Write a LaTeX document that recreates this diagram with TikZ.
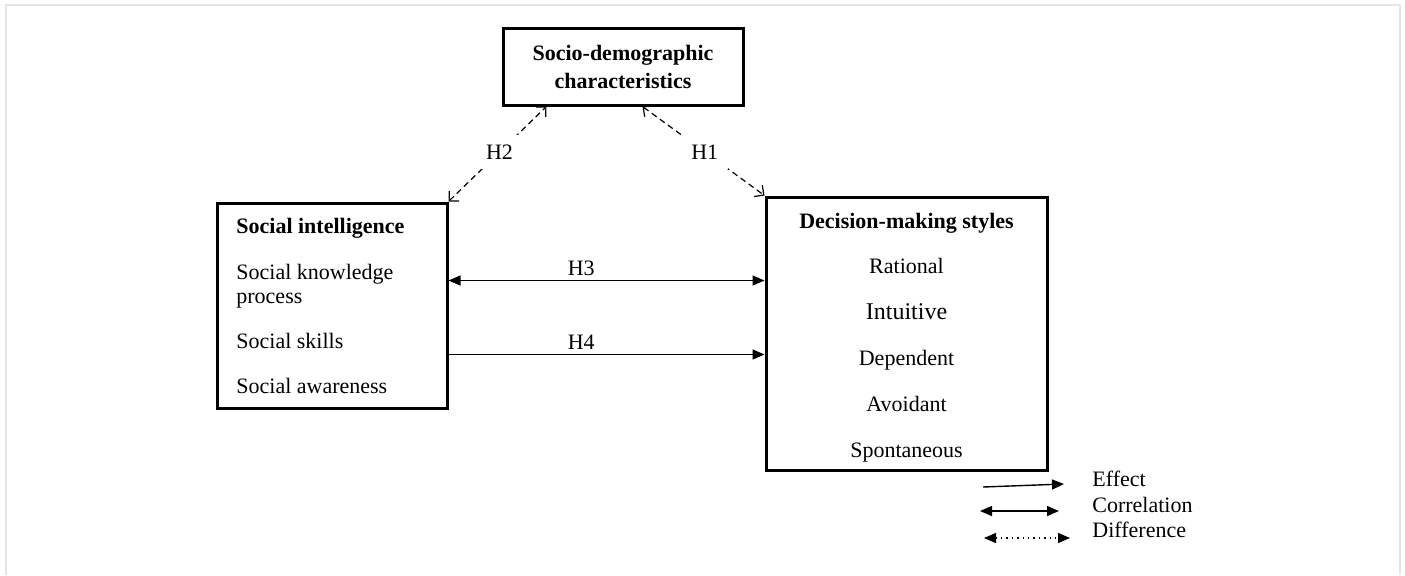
\documentclass[tikz,border=0pt]{standalone}
\usepackage{fontspec}
\setmainfont{Liberation Serif}
\usetikzlibrary{arrows.meta,positioning}

\tikzset{
  box/.style={draw, line width=1.5pt, inner sep=0pt},
  txt/.style={font=\fontsize{11}{14}\selectfont, inner sep=0pt},
  head/.style={font=\fontsize{11}{14}\selectfont\bfseries, inner sep=0pt},
  hyp/.style={font=\fontsize{11}{14}\selectfont, inner sep=2pt},
  gaplbl/.style={font=\fontsize{11}{14}\selectfont, fill=white, inner sep=5pt},
  dasharrow/.style={line width=0.6pt, dash pattern=on 3pt off 2pt,
    {Straight Barb[length=3.5pt,width=7pt]}-{Straight Barb[length=3.5pt,width=7pt]}},
  effect/.style={line width=0.7pt, -{Triangle[length=6pt,width=5pt]}},
  corr/.style={line width=0.7pt, {Triangle[length=6pt,width=5pt]}-{Triangle[length=6pt,width=5pt]}},
  diff/.style={line width=0.7pt, dotted, {Triangle[length=6pt,width=5pt]}-{Triangle[length=6pt,width=5pt]}}
}

\begin{document}
\begin{tikzpicture}[x=0.5pt,y=-0.5pt]
\useasboundingbox (0,0) rectangle (1405,575);
\draw[black!10, line width=1pt] (6,575) -- (6,5) -- (1400,5) -- (1400,575);

% the three boxes
\node[box, head, align=center, minimum width=120pt, minimum height=38.5pt] (sd) at (623,66.5) {Socio-demographic\\characteristics};
\node[box, minimum width=115pt, minimum height=102.5pt] (si) at (332,305.5) {};
\node[box, minimum width=140.5pt, minimum height=136.5pt] (dm) at (906.5,333.5) {};

% social intelligence
\node[head, anchor=base west] (si0) at (236,233) {Social intelligence};
\node[txt, anchor=base west] (si1) at (236,279) {Social knowledge};
\node[txt, anchor=base west] (si1b) at (236,303) {process};
\node[txt, anchor=base west] (si2) at (236,348) {Social skills};
\node[txt, anchor=base west] (si3) at (236,393) {Social awareness};

% decision-making styles
\node[head, anchor=base] (dm0) at (906.5,228) {Decision-making styles};
\foreach \s [count=\n] in {Rational,{\fontsize{12}{14}\selectfont Intuitive},Dependent,Avoidant,Spontaneous}
  \node[txt, anchor=base] (dm\n) at (906.5,{227+46*\n}) {\s};

% hypotheses
\draw[dasharrow] (si.north east) -- node[gaplbl, pos=0.52]{H2} ([xshift=22.5pt]sd.south west);
\draw[dasharrow] ([xshift=-51pt]sd.south east) -- node[gaplbl, pos=0.51]{H1} (dm.north west);

\coordinate (h3) at ([yshift=12.5pt]si.east);
\coordinate (h4) at ([yshift=-24.5pt]si.east);
\draw[corr] (h3) -- node[hyp, above, pos=0.42]{H3} (h3 -| dm.west);
\draw[effect] (h4) -- node[hyp, above, pos=0.42]{H4} (h4 -| dm.west);

% legend
\node[txt, anchor=base west] (lgE) at (1092,486) {Effect};
\node[txt, anchor=base west] (lgC) at (1092,512) {Correlation};
\node[txt, anchor=base west] (lgD) at (1092,537) {Difference};
\coordinate (e1) at (983,487);  \coordinate (e2) at (1064,484);
\coordinate (c1) at (980,511);  \coordinate (c2) at (1059,511);
\coordinate (d1) at (984,538);  \coordinate (d2) at (1070,538);
\draw[effect] (e1) -- (e2);
\draw[corr] (c1) -- (c2);
\draw[diff] (d1) -- (d2);
\end{tikzpicture}
\end{document}
